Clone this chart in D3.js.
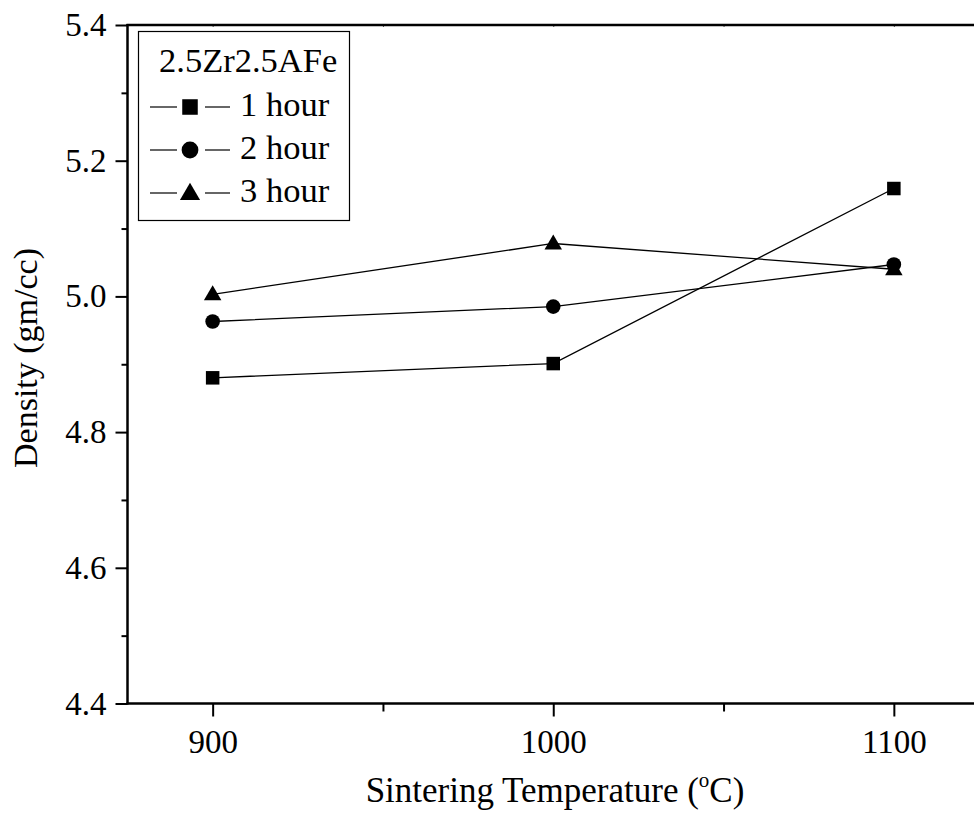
<!DOCTYPE html>
<html>
<head>
<meta charset="utf-8">
<script src="https://cdn.jsdelivr.net/npm/d3@7"></script>
<style>
  html, body { margin: 0; padding: 0; background: #fff; }
  svg { display: block; }
  text { font-family: "Liberation Serif", "Times New Roman", serif; fill: #000; }
</style>
</head>
<body>
<svg id="chart" width="974" height="817"></svg>
<script>
const temperatures = [900, 1000, 1100];
const hour1 = [4.880, 4.901, 5.159];
const hour2 = [4.963, 4.985, 5.047];
const hour3 = [5.003, 5.078, 5.040];
const seriesNames = ["1 hour", "2 hour", "3 hour"];
const seriesSymbols = ["square", "circle", "triangle"];
const yTicks = [4.4, 4.6, 4.8, 5.0, 5.2, 5.4];
const yMinorTicks = [4.5, 4.7, 4.9, 5.1, 5.3];
const xTicks = [900, 1000, 1100];
const xMinorTicks = [950, 1050];
const legendTitle = "2.5Zr2.5AFe";

(function () {
const series = [hour1, hour2, hour3].map((vals, i) => ({
  name: seriesNames[i], symbol: seriesSymbols[i],
  points: temperatures.map((t, j) => ({ x: t, y: vals[j] }))
}));

const svg = d3.select("#chart");
const pLeft = 127.5, pTop = 25, pBottom = 703.5, pRight = 979;
const x = d3.scaleLinear().domain([875, 1125]).range([pLeft, pRight]);
const y = d3.scaleLinear().domain([4.4, 5.4]).range([pBottom, pTop]);

// data lines
const line = d3.line().x(d => x(d.x)).y(d => y(d.y));
series.forEach(s => {
  svg.append("path").datum(s.points).attr("d", line)
    .attr("fill", "none").attr("stroke", "#000").attr("stroke-width", 1.3);
});

function drawSymbol(g, type, cx, cy, k) {
  k = k || 1;
  if (type === "square") {
    const a = 13.5 * k;
    g.append("rect").attr("x", cx - a / 2).attr("y", cy - a / 2).attr("width", a).attr("height", a).attr("fill", "#000");
  } else if (type === "circle") {
    g.append("circle").attr("cx", cx).attr("cy", cy).attr("r", 7.3 * k).attr("fill", "#000");
  } else {
    const h = 15 * k, w = 17.5 * k;
    g.append("path").attr("d", `M${cx},${cy - h * 0.6}L${cx + w / 2},${cy + h * 0.4}L${cx - w / 2},${cy + h * 0.4}Z`).attr("fill", "#000");
  }
}

series.forEach(s => {
  const g = svg.append("g");
  s.points.forEach(p => drawSymbol(g, s.symbol, x(p.x), y(p.y), 1));
});

// axes
const yAxis = d3.axisLeft(y).tickValues(yTicks).tickFormat(d3.format(".1f")).tickSize(12).tickPadding(9);
const gy = svg.append("g").attr("transform", `translate(${pLeft},0)`).call(yAxis);
gy.select(".domain").remove();
gy.selectAll(".tick line").attr("stroke-width", 2);
gy.selectAll(".tick text").style("font-size", "33px").style("font-family", "Liberation Serif");

const yMinor = d3.axisLeft(y).tickValues(yMinorTicks).tickSize(6).tickFormat("");
const gym = svg.append("g").attr("transform", `translate(${pLeft},0)`).call(yMinor);
gym.select(".domain").remove();
gym.selectAll(".tick line").attr("stroke-width", 2);

const xAxis = d3.axisBottom(x).tickValues(xTicks).tickFormat(d3.format("d")).tickSize(13).tickPadding(13);
const gx = svg.append("g").attr("transform", `translate(0,${pBottom})`).call(xAxis);
gx.select(".domain").remove();
gx.selectAll(".tick line").attr("stroke-width", 2);
gx.selectAll(".tick text").style("font-size", "33px").style("font-family", "Liberation Serif");

const xMinor = d3.axisBottom(x).tickValues(xMinorTicks).tickSize(8).tickFormat("");
const gxm = svg.append("g").attr("transform", `translate(0,${pBottom})`).call(xMinor);
gxm.select(".domain").remove();
gxm.selectAll(".tick line").attr("stroke-width", 2);

// top mirror axis with tiny inward ticks
const xTop = d3.axisTop(x).tickValues(xTicks.concat(xMinorTicks)).tickSize(-2).tickFormat("");
const gxt = svg.append("g").attr("transform", `translate(0,${pTop})`).call(xTop);
gxt.select(".domain").remove();
gxt.selectAll(".tick line").attr("stroke", "#555").attr("stroke-width", 1);

// frame
svg.append("line").attr("x1", pLeft).attr("x2", pLeft).attr("y1", pTop - 1).attr("y2", pBottom + 1).attr("stroke", "#000").attr("stroke-width", 2.5);
svg.append("line").attr("x1", pLeft - 1).attr("x2", 974).attr("y1", pBottom).attr("y2", pBottom).attr("stroke", "#000").attr("stroke-width", 2.5);
svg.append("line").attr("x1", pLeft - 1).attr("x2", 974).attr("y1", pTop).attr("y2", pTop).attr("stroke", "#000").attr("stroke-width", 2.5);

// axis titles
const xt = svg.append("text").attr("x", 555).attr("y", 802).attr("text-anchor", "middle").style("font-size", "35px");
xt.append("tspan").text("Sintering Temperature (");
xt.append("tspan").text("o").style("font-size", "21px").attr("dy", -15);
xt.append("tspan").text("C)").attr("dy", 15);

svg.append("text").attr("transform", "translate(37,358) rotate(-90)").attr("text-anchor", "middle")
  .style("font-size", "34px").text("Density (gm/cc)");

// legend
const lg = svg.append("g");
lg.append("rect").attr("x", 138.5).attr("y", 31.5).attr("width", 211).attr("height", 189)
  .attr("fill", "#fff").attr("stroke", "#000").attr("stroke-width", 1.2);
lg.append("text").attr("x", 159).attr("y", 72).style("font-size", "34.5px").text(legendTitle);
series.forEach((s, i) => {
  const cy = 107 + i * 43;
  lg.append("line").attr("x1", 150).attr("x2", 177).attr("y1", cy).attr("y2", cy).attr("stroke", "#000").attr("stroke-width", 1.2);
  lg.append("line").attr("x1", 205).attr("x2", 230).attr("y1", cy).attr("y2", cy).attr("stroke", "#000").attr("stroke-width", 1.2);
  drawSymbol(lg, s.symbol, 190, cy, 1.15);
  lg.append("text").attr("x", 240).attr("y", cy + 9).style("font-size", "34.5px").text(s.name);
});
})();
</script>
</body>
</html>
